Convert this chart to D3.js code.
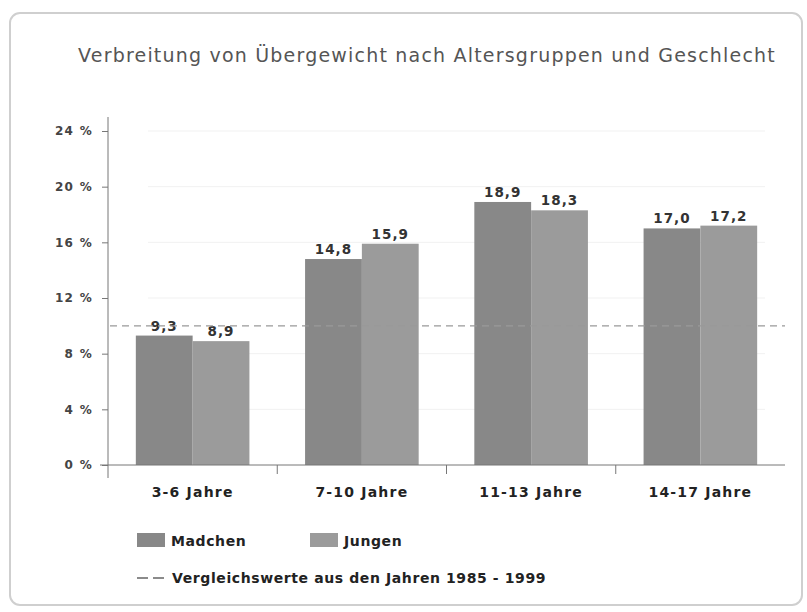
<!DOCTYPE html>
<html lang="de">
<head>
<meta charset="UTF-8">
<title>Verbreitung von Übergewicht</title>
<style>
  body { margin: 0; background: #fff; }
  svg { display: block; }
  text { font-family: "DejaVu Sans", sans-serif; }
</style>
</head>
<body>
<script src="https://d3js.org/d3.v7.min.js"></script>
<script>
// Daten
const gruppen = ["3-6 Jahre", "7-10 Jahre", "11-13 Jahre", "14-17 Jahre"];
const serien = ["Mädchen", "Jungen"];
const maedchen = [9.3, 14.8, 18.9, 17.0];
const jungen = [8.9, 15.9, 18.3, 17.2];
const vergleichswert = 10;
const yTicks = [0, 4, 8, 12, 16, 20, 24];

const width = 807, height = 612;
const margin = {top: 131, left: 108, right: 22, bottom: 147};

const svg = d3.select("body").append("svg")
  .attr("width", width)
  .attr("height", height);

// Rahmen
svg.append("rect")
  .attr("x", 10).attr("y", 13)
  .attr("width", 792).attr("height", 592)
  .attr("rx", 10)
  .attr("fill", "#fff")
  .attr("stroke", "#cfcfcf")
  .attr("stroke-width", 2);

// Titel
svg.append("text")
  .attr("x", 427).attr("y", 62)
  .attr("text-anchor", "middle")
  .attr("font-size", 19)
  .attr("letter-spacing", 1.2)
  .attr("fill", "#555")
  .text("Verbreitung von Übergewicht nach Altersgruppen und Geschlecht");

const x0 = d3.scaleBand()
  .domain(gruppen)
  .range([margin.left, width - margin.right]);

const x1 = d3.scaleBand()
  .domain(serien)
  .range([0, x0.bandwidth()])
  .paddingOuter(0.49);

const y = d3.scaleLinear()
  .domain([0, 24])
  .range([height - margin.bottom, margin.top]);

const farbe = d3.scaleOrdinal().domain(serien).range(["#888888", "#9b9b9b"]);

// leichte Gitterlinien
svg.append("g")
  .selectAll("line")
  .data(yTicks.slice(1))
  .join("line")
    .attr("x1", margin.left + 40).attr("x2", width - margin.right - 20)
    .attr("y1", d => y(d)).attr("y2", d => y(d))
    .attr("stroke", "#f1f1f1");

// Balken
const daten = gruppen.map((g, i) => ({gruppe: g, werte: [
  {serie: serien[0], wert: maedchen[i]},
  {serie: serien[1], wert: jungen[i]}
]}));

const grp = svg.append("g")
  .selectAll("g")
  .data(daten)
  .join("g")
    .attr("transform", d => `translate(${x0(d.gruppe)},0)`);

grp.selectAll("rect")
  .data(d => d.werte)
  .join("rect")
    .attr("x", d => x1(d.serie))
    .attr("y", d => y(d.wert))
    .attr("width", x1.bandwidth())
    .attr("height", d => y(0) - y(d.wert))
    .attr("fill", d => farbe(d.serie));

grp.selectAll("text")
  .data(d => d.werte)
  .join("text")
    .attr("x", d => x1(d.serie) + x1.bandwidth() / 2)
    .attr("y", d => y(d.wert) - 5)
    .attr("text-anchor", "middle")
    .attr("font-size", 13.5)
    .attr("font-weight", "bold")
    .attr("letter-spacing", 1)
    .attr("fill", "#333")
    .text(d => d3.format(".1f")(d.wert).replace(".", ","));

// Vergleichslinie
svg.append("line")
  .attr("x1", margin.left + 2).attr("x2", width - margin.right)
  .attr("y1", y(vergleichswert)).attr("y2", y(vergleichswert))
  .attr("stroke", "#999")
  .attr("stroke-width", 1.3)
  .attr("stroke-dasharray", "7,5");

// Y-Achse
const yAxis = svg.append("g")
  .attr("transform", `translate(${margin.left},0)`)
  .call(d3.axisLeft(y).tickValues(yTicks).tickSize(6).tickPadding(9)
    .tickFormat(d => d + " %"));
yAxis.select(".domain").attr("d", `M0,${margin.top - 14}V${y(0) + 13}`);
yAxis.selectAll("line, .domain").attr("stroke", "#777");
yAxis.selectAll("text")
  .attr("font-size", 12)
  .attr("font-weight", "bold")
  .attr("letter-spacing", 1.3)
  .attr("fill", "#444")
  .attr("font-family", "\"DejaVu Sans\", sans-serif");

// X-Achse
const xAxis = svg.append("g")
  .attr("transform", `translate(0,${y(0)})`)
  .call(d3.axisBottom(x0).tickSize(0).tickPadding(22));
xAxis.select(".domain").attr("d", `M${margin.left - 8},0H${width - margin.right}`).attr("stroke", "#777");
xAxis.selectAll("text")
  .attr("font-size", 14)
  .attr("font-weight", "bold")
  .attr("letter-spacing", 1.2)
  .attr("fill", "#222")
  .attr("font-family", "\"DejaVu Sans\", sans-serif");
xAxis.selectAll(".sep")
  .data(gruppen.slice(1))
  .join("line")
    .attr("class", "sep")
    .attr("x1", d => x0(d)).attr("x2", d => x0(d))
    .attr("y1", 0).attr("y2", 9)
    .attr("stroke", "#777");

// Legende
const leg = svg.append("g").attr("transform", "translate(137,533)");
leg.selectAll("rect")
  .data(serien)
  .join("rect")
    .attr("x", (d, i) => i * 173)
    .attr("y", 0)
    .attr("width", 28).attr("height", 14)
    .attr("fill", d => farbe(d));
leg.selectAll("text.s")
  .data(serien)
  .join("text")
    .attr("class", "s")
    .attr("x", (d, i) => i * 173 + 34)
    .attr("y", 13)
    .attr("font-size", 14)
    .attr("font-weight", 600)
    .attr("letter-spacing", 0.6)
    .attr("fill", "#222")
    .text(d => d === "Mädchen" ? "Madchen" : d);

leg.append("line")
  .attr("x1", 0).attr("x2", 28)
  .attr("y1", 45).attr("y2", 45)
  .attr("stroke", "#666")
  .attr("stroke-width", 1.3)
  .attr("stroke-dasharray", "11,5");
leg.append("text")
  .attr("x", 35).attr("y", 50)
  .attr("font-size", 14)
  .attr("font-weight", 600)
  .attr("letter-spacing", 0.6)
  .attr("fill", "#222")
  .text("Vergleichswerte aus den Jahren 1985 - 1999");
</script>
</body>
</html>
